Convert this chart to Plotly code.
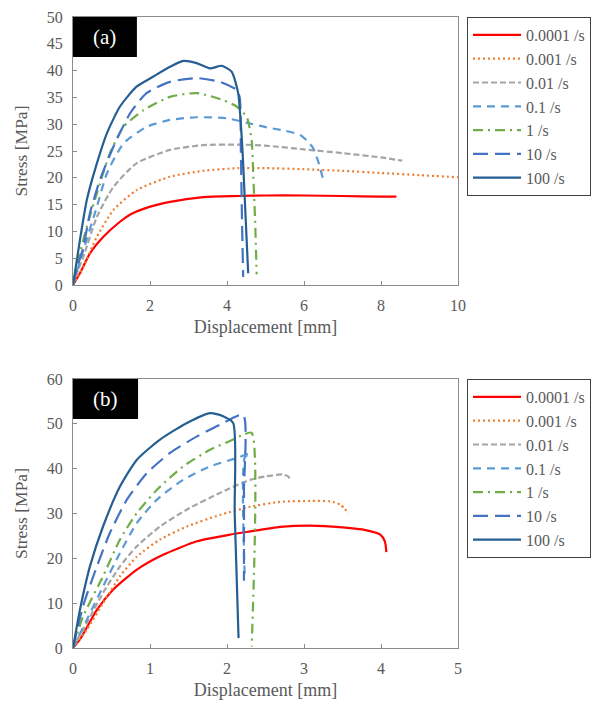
import plotly.graph_objects as go

# ---------------- data: panel (a) ----------------
labels = ["0.0001 /s", "0.001 /s", "0.01 /s", "0.1 /s", "1 /s", "10 /s", "100 /s"]
colors = ["#FF0000", "#ED7D31", "#A5A5A5", "#5B9BD5", "#70AD47", "#4472C4", "#255E91"]
dashes = ["solid", "2px,3px", "6px,3px", "8px,6px", "10px,5px,2px,5px", "15px,7px", "solid"]

a_x_00001 = [0, 0.18, 0.44, 0.79, 1.22, 1.5, 1.83, 2.52, 3.38, 4.29, 5, 6, 7, 8, 8.4]
a_y_00001 = [0, 2.2, 5.9, 9, 11.8, 13.2, 14.2, 15.5, 16.4, 16.6, 16.7, 16.7, 16.6, 16.5, 16.5]
a_x_0001 = [0, 0.1, 0.27, 0.62, 1.05, 1.65, 2.52, 3.38, 4.29, 5, 6, 7, 8, 9, 10]
a_y_0001 = [0, 1.3, 3.4, 9, 14, 17.7, 20.2, 21.3, 21.8, 21.8, 21.6, 21.3, 20.9, 20.5, 20.1]
a_x_001 = [0, 0.1, 0.27, 0.62, 1.05, 1.65, 2.52, 3.38, 4.29, 5, 6, 7, 8, 8.55]
a_y_001 = [0, 2.2, 5.3, 12.7, 18.3, 22.7, 25.2, 26.1, 26.2, 26, 25.3, 24.6, 23.8, 23.2]
a_x_01 = [0, 0.1, 0.27, 0.62, 0.88, 1.31, 1.91, 2.52, 3.21, 3.99, 4.5, 5.03, 5.5, 5.9, 6.07, 6.24, 6.37, 6.49]
a_y_01 = [0, 2.5, 6.5, 14.6, 20.8, 26.4, 29.5, 30.8, 31.3, 31.1, 30.3, 29.4, 28.8, 28, 27, 25.5, 23, 19.9]
a_x_1 = [0, 0.15, 0.36, 0.62, 0.96, 1.31, 1.83, 2.52, 3.21, 3.9, 4.25, 4.51, 4.64, 4.68, 4.73, 4.77]
a_y_1 = [0, 5, 10.9, 17.1, 24.6, 29.5, 32.6, 35.1, 35.8, 34.5, 33.3, 31.4, 27, 20.8, 12, 2]
a_x_10 = [0, 0.1, 0.27, 0.44, 0.7, 1.05, 1.48, 1.91, 2.52, 3.21, 3.82, 4.25, 4.33, 4.36, 4.39, 4.42]
a_y_10 = [0, 3, 7.1, 13.4, 19.6, 25.8, 32, 35.8, 37.9, 38.6, 37.9, 36.4, 35, 25, 12, 1.5]
a_x_100 = [0, 0.18, 0.36, 0.62, 0.88, 1.22, 1.65, 2.09, 2.52, 2.87, 3.21, 3.56, 3.86, 4.12, 4.29, 4.36, 4.41, 4.47, 4.55]
a_y_100 = [0, 8.4, 15.9, 22.7, 28.3, 33.3, 37, 38.9, 40.7, 41.8, 41.4, 40.4, 40.9, 39.8, 35.8, 30, 24, 14.7, 2.2]

# ---------------- data: panel (b) ----------------
b_x_00001 = [0, 0.09, 0.31, 0.52, 0.83, 1.17, 1.61, 2.04, 2.3, 2.69, 3.08, 3.5, 3.8, 3.99, 4.05, 4.07]
b_y_00001 = [0, 1.9, 8.5, 13, 17.5, 20.8, 23.8, 25.3, 26, 27, 27.3, 26.9, 26.3, 25.3, 23.8, 21.4]
b_x_0001 = [0, 0.18, 0.39, 0.61, 0.83, 1.13, 1.48, 1.91, 2.3, 2.69, 3.1, 3.34, 3.47, 3.58]
b_y_0001 = [0, 4.1, 10, 16, 20.4, 24.2, 27.1, 29.7, 31.5, 32.6, 32.8, 32.7, 32, 30]
b_x_001 = [0, 0.09, 0.18, 0.39, 0.61, 0.83, 1.13, 1.48, 1.91, 2.3, 2.51, 2.72, 2.8, 2.82]
b_y_001 = [0, 3, 5.6, 12.3, 18.2, 22.7, 27.1, 30.9, 34.6, 37.5, 38.3, 38.7, 38.2, 37.2]
b_x_01 = [0, 0.18, 0.39, 0.61, 0.83, 1.09, 1.43, 1.78, 2.13, 2.22, 2.3, 2.23, 2.23]
b_y_01 = [0, 6.3, 13.7, 21.2, 27.9, 33.1, 37.5, 40.5, 42.4, 43, 43.5, 42.5, 16]
b_x_1 = [0, 0.13, 0.39, 0.61, 0.83, 1.09, 1.43, 1.78, 2.08, 2.19, 2.32, 2.32]
b_y_1 = [0, 7, 16, 24.2, 30.1, 35.3, 40.5, 44.2, 46.5, 47.4, 48, 0.3]
b_x_10 = [0, 0.13, 0.31, 0.48, 0.7, 0.96, 1.26, 1.61, 1.91, 2.21, 2.22, 2.22]
b_y_10 = [0, 9.3, 18.2, 25.7, 33.1, 39, 43.5, 47.2, 49.8, 52, 35, 15]
b_x_100 = [0, 0.09, 0.22, 0.39, 0.61, 0.83, 1.13, 1.48, 1.78, 1.95, 2.08, 2.1, 2.15]
b_y_100 = [0, 8.5, 18.2, 27.1, 36, 42, 46.5, 50.2, 52.4, 51.7, 50.2, 30, 2.2]

a_series = [(a_x_00001, a_y_00001), (a_x_0001, a_y_0001), (a_x_001, a_y_001), (a_x_01, a_y_01),
            (a_x_1, a_y_1), (a_x_10, a_y_10), (a_x_100, a_y_100)]
b_series = [(b_x_00001, b_y_00001), (b_x_0001, b_y_0001), (b_x_001, b_y_001), (b_x_01, b_y_01),
            (b_x_1, b_y_1), (b_x_10, b_y_10), (b_x_100, b_y_100)]

a_xticks = [0, 2, 4, 6, 8, 10]
a_yticks = [0, 5, 10, 15, 20, 25, 30, 35, 40, 45, 50]
b_xticks = [0, 1, 2, 3, 4, 5]
b_yticks = [0, 10, 20, 30, 40, 50, 60]

W, H = 595, 704
FONT = "Liberation Serif, Times New Roman, serif"
TXT = "#595959"
AX = "#8C8C8C"

fig = go.Figure()
for i, (xs, ys) in enumerate(a_series):
    fig.add_trace(go.Scatter(x=xs, y=ys, mode="lines", name=labels[i], legend="legend",
                             line=dict(color=colors[i], width=2.2, dash=dashes[i], shape="spline", smoothing=0.6),
                             xaxis="x", yaxis="y"))
for i, (xs, ys) in enumerate(b_series):
    fig.add_trace(go.Scatter(x=xs, y=ys, mode="lines", name=labels[i], legend="legend2",
                             line=dict(color=colors[i], width=2.2, dash=dashes[i], shape="spline", smoothing=0.6),
                             xaxis="x2", yaxis="y2"))

def px_x(p):
    return p / W

def px_y(p):
    return 1 - p / H

axis_common = dict(showgrid=False, zeroline=False, showline=True, linecolor=AX, linewidth=1,
                   mirror=True, ticks="inside", ticklen=4, tickcolor=AX, automargin=False,
                   tickfont=dict(family=FONT, size=16, color=TXT))
xtitle_font = dict(family=FONT, size=18, color=TXT)
ytitle_font = dict(family=FONT, size=17.5, color=TXT)

fig.update_layout(
    width=W, height=H,
    margin=dict(l=0, r=0, t=0, b=0, autoexpand=False),
    paper_bgcolor="white", plot_bgcolor="white",
    font=dict(family=FONT, color=TXT),
    xaxis=dict(domain=[px_x(73), px_x(458)], range=[0, 10], tickvals=a_xticks, anchor="y",
               ticklabelstandoff=6,
               title=dict(text="Displacement [mm]", font=xtitle_font, standoff=7),
               **axis_common),
    yaxis=dict(domain=[px_y(285), px_y(17)], range=[0, 50], tickvals=a_yticks, anchor="x",
               ticklabelstandoff=6,
               title=dict(text="Stress [MPa]", font=ytitle_font, standoff=14),
               **axis_common),
    xaxis2=dict(domain=[px_x(73), px_x(458)], range=[0, 5], tickvals=b_xticks, anchor="y2",
                ticklabelstandoff=6,
                title=dict(text="Displacement [mm]", font=xtitle_font, standoff=7),
                **axis_common),
    yaxis2=dict(domain=[px_y(648), px_y(379)], range=[0, 60], tickvals=b_yticks, anchor="x2",
                ticklabelstandoff=6,
                title=dict(text="Stress [MPa]", font=ytitle_font, standoff=14),
                **axis_common),
    legend=dict(x=px_x(467), y=px_y(17), xanchor="left", yanchor="top",
                bordercolor="#404040", borderwidth=1, bgcolor="white",
                font=dict(family=FONT, size=16, color=TXT), tracegroupgap=0, itemwidth=48),
    legend2=dict(x=px_x(467), y=px_y(379), xanchor="left", yanchor="top",
                 bordercolor="#404040", borderwidth=1, bgcolor="white",
                 font=dict(family=FONT, size=16, color=TXT), tracegroupgap=0, itemwidth=48),
    shapes=[
        dict(type="rect", xref="x domain", yref="y domain", x0=0, x1=0.166, y0=0.851, y1=1,
             fillcolor="black", line=dict(width=0), layer="above"),
        dict(type="rect", xref="x2 domain", yref="y2 domain", x0=0, x1=0.169, y0=0.851, y1=1,
             fillcolor="black", line=dict(width=0), layer="above"),
    ],
    annotations=[
        dict(text="(a)", xref="x domain", yref="y domain", x=0.083, y=0.925,
             xanchor="center", yanchor="middle", showarrow=False,
             font=dict(family=FONT, size=21, color="white")),
        dict(text="(b)", xref="x2 domain", yref="y2 domain", x=0.0845, y=0.925,
             xanchor="center", yanchor="middle", showarrow=False,
             font=dict(family=FONT, size=21, color="white")),
    ],
    showlegend=True,
)

fig.write_html("out.html", config={"displayModeBar": False},
               post_script="document.body.style.margin='0';document.body.style.padding='0';document.body.style.overflow='hidden';")
